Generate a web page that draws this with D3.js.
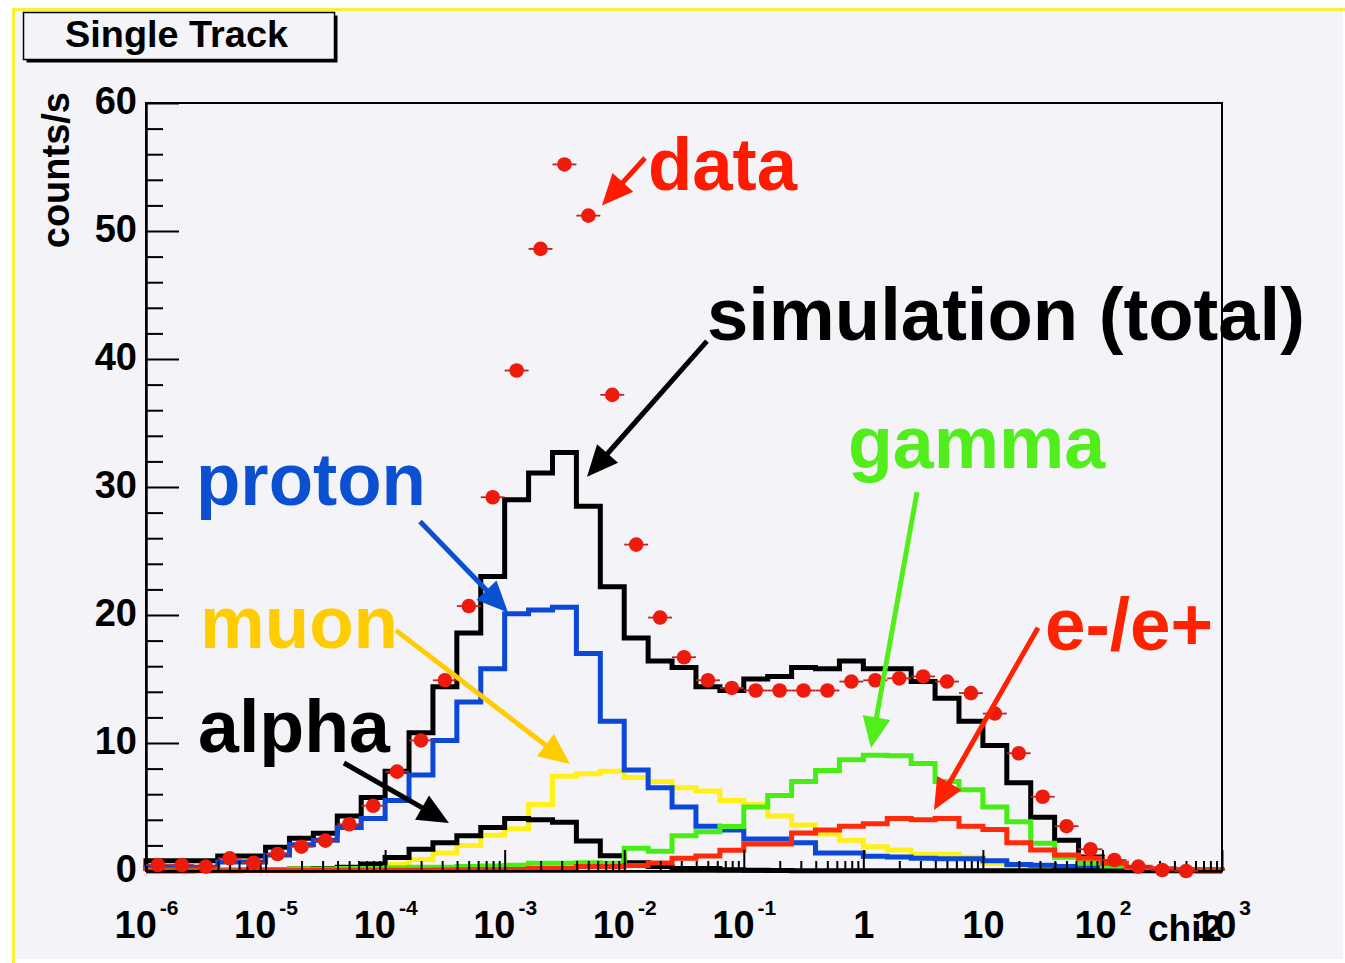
<!DOCTYPE html>
<html>
<head>
<meta charset="utf-8">
<script src="https://cdn.jsdelivr.net/npm/d3@7"></script>
<style>
  html, body { margin: 0; padding: 0; background: #ffffff; }
  svg { display: block; }
  text { font-family: "Liberation Sans", Arial, Helvetica, sans-serif; font-weight: bold; }
</style>
</head>
<body>
<svg id="chart" width="1345" height="963"></svg>
<script>
// ---- binning: 45 equal bins in log10(chi2), from 1e-6 to 1e3 ----
const binCount = 45;
const logMin = -6, logMax = 3;
const binEdges = d3.range(binCount + 1).map(i => Math.pow(10, logMin + i * (logMax - logMin) / binCount));
const binCenters = d3.range(binCount).map(i => Math.pow(10, logMin + (i + 0.5) * (logMax - logMin) / binCount));

// ---- axis ticks ----
const xTickExponents = [-6, -5, -4, -3, -2, -1, 0, 1, 2, 3];
const yTickValues = [0, 10, 20, 30, 40, 50, 60];
const yMinorValues = [2, 4, 6, 8, 12, 14, 16, 18, 22, 24, 26, 28, 32, 34, 36, 38, 42, 44, 46, 48, 52, 54, 56, 58];

// ---- measured rate (counts/s), one value per bin ----
const dataRate = [0.47, 0.47, 0.34, 0.99, 0.65, 1.33, 1.9, 2.37, 3.65, 5.1,
                  7.76, 10.2, 14.9, 20.7, 29.2, 39.1, 48.6, 55.2, 51.2, 37.2,
                  25.5, 19.8, 16.7, 14.9, 14.3, 14.1, 14.1, 14.1, 14.1, 14.8,
                  14.9, 15.05, 15.2, 14.8, 13.9, 12.3, 9.2, 5.8, 3.5, 1.7,
                  0.86, 0.34, 0.08, 0.0, null];

// ---- simulated rates (counts/s) ----
const simTotal = [0.81, 0.81, 0.81, 1.17, 1.17, 1.85, 2.55, 2.94, 4.3, 5.75,
                  7.8, 10.8, 14.4, 18.6, 23.0, 29.0, 31.1, 32.7, 28.5, 22.2,
                  18.2, 16.4, 15.9, 14.4, 14.1, 15.0, 15.2, 15.9, 15.8, 16.4,
                  15.8, 15.8, 14.8, 13.5, 11.7, 9.8, 6.9, 4.2, 2.4, 1.1,
                  0.35, 0.15, 0.08, 0.05, 0.02];

const proton = [0.3, 0.3, 0.3, 0.7, 0.7, 1.25, 2.05, 2.4, 3.4, 4.1,
                5.5, 7.5, 10.2, 13.2, 15.8, 20.1, 20.4, 20.6, 17.0, 11.7,
                7.9, 6.5, 5.0, 3.5, 3.2, 2.5, 2.5, 2.2, 1.4, 1.4,
                1.15, 1.1, 1.0, 0.95, 0.95, 0.8, 0.5, 0.45, 0.35, 0.3,
                0.25, 0.2, 0.15, 0.1, 0.1];

const muon = [0.02, 0.02, 0.05, 0.05, 0.1, 0.1, 0.15, 0.2, 0.25, 0.35,
              0.5, 0.9, 1.4, 2.0, 2.8, 3.3, 5.2, 7.4, 7.6, 7.8,
              7.3, 7.0, 6.5, 6.25, 5.5, 5.2, 4.3, 3.6, 2.9, 2.4,
              1.9, 1.64, 1.3, 1.3, 1.07, 0.6, 0.4, 0.25, 0.15, 0.1,
              0.05, 0.02, 0.02, 0.02, 0.02];

const alpha = [0.02, 0.02, 0.03, 0.05, 0.08, 0.1, 0.15, 0.2, 0.3, 0.55,
               1.05, 1.7, 2.2, 2.75, 3.4, 4.1, 4.0, 3.8, 2.35, 1.2,
               0.65, 0.35, 0.2, 0.2, 0.1, 0.05, 0.03, 0.02, 0.02, 0.02,
               0.02, 0.02, 0.02, 0.02, 0.02, 0.02, 0.02, 0.02, 0.02, 0.02,
               0.02, 0.02, 0.02, 0.02, 0.02];

const gamma = [0.05, 0.05, 0.05, 0.1, 0.1, 0.1, 0.15, 0.15, 0.2, 0.2,
               0.25, 0.3, 0.3, 0.35, 0.4, 0.45, 0.6, 0.6, 0.65, 0.6,
               1.77, 1.55, 2.75, 3.07, 3.48, 5.0, 5.9, 7.0, 7.85, 8.7,
               9.05, 9.0, 8.4, 7.0, 6.35, 5.0, 3.85, 2.16, 1.07, 0.6,
               0.4, 0.2, 0.1, 0.05, 0.03];

const electron = [0.02, 0.02, 0.02, 0.02, 0.03, 0.03, 0.03, 0.05, 0.05, 0.05,
                  0.05, 0.05, 0.08, 0.1, 0.1, 0.12, 0.2, 0.2, 0.35, 0.35,
                  0.42, 0.62, 1.0, 1.17, 1.62, 2.1, 2.1, 2.97, 3.2, 3.5,
                  3.7, 4.1, 4.0, 4.1, 3.5, 3.25, 2.2, 1.64, 1.25, 1.0,
                  0.6, 0.3, 0.15, 0.05, 0.02];

// ---- layout ----
const W = 1345, H = 963;
const plot = { left: 146, right: 1222, top: 103, bottom: 871 };
const bgColor = "#f4f3f7";
const fontStack = '"Liberation Sans", Arial, Helvetica, sans-serif';

const svg = d3.select("#chart");

const x = d3.scaleLog().domain([1e-6, 1e3]).range([plot.left, plot.right]);
const y = d3.scaleLinear().domain([0, 60]).range([plot.bottom, plot.top]);

// canvas with its highlighted (yellow) top and left border
svg.append("rect").attr("x", 0).attr("y", 0).attr("width", W).attr("height", H).attr("fill", "#ffffff");
svg.append("rect").attr("x", 12).attr("y", 8).attr("width", 1331).attr("height", 951).attr("fill", bgColor);
svg.append("line").attr("x1", 12).attr("x2", W).attr("y1", 9.5).attr("y2", 9.5)
   .attr("stroke", "#faf03a").attr("stroke-width", 3);
svg.append("line").attr("x1", 13.5).attr("x2", 13.5).attr("y1", 8).attr("y2", H)
   .attr("stroke", "#faf03a").attr("stroke-width", 3);

// title box with drop shadow
svg.append("rect").attr("x", 26.5).attr("y", 15.5).attr("width", 311).attr("height", 47).attr("fill", "#000");
svg.append("rect").attr("x", 23.5).attr("y", 12.5).attr("width", 311).attr("height", 47)
   .attr("fill", bgColor).attr("stroke", "#000").attr("stroke-width", 1.5);
svg.append("text").attr("x", 176.5).attr("y", 47).attr("text-anchor", "middle")
   .attr("font-size", 37).attr("textLength", 223).attr("lengthAdjust", "spacingAndGlyphs")
   .attr("fill", "#000").text("Single Track");

// ---- histograms ----
function stepPoints(values) {
  const pts = [[binEdges[0], 0]];
  values.forEach((v, i) => { pts.push([binEdges[i], v]); pts.push([binEdges[i + 1], v]); });
  pts.push([binEdges[binCount], 0]);
  return pts;
}
const stepLine = d3.line().x(d => x(d[0])).y(d => y(d[1]));

const histograms = [
  { name: "total",    values: simTotal, color: "#000000" },
  { name: "muon",     values: muon,     color: "#fff01a" },
  { name: "proton",   values: proton,   color: "#0b48d8" },
  { name: "alpha",    values: alpha,    color: "#000000" },
  { name: "gamma",    values: gamma,    color: "#46ee14" },
  { name: "electron", values: electron, color: "#ff2a0a" }
];

const gHist = svg.append("g").attr("class", "histograms");
gHist.selectAll("path").data(histograms).join("path")
  .attr("d", d => stepLine(stepPoints(d.values)))
  .attr("fill", "none")
  .attr("stroke", d => d.color)
  .attr("stroke-width", 5)
  .attr("stroke-linejoin", "miter");

// ---- axes ----
function styleAxis(g) {
  g.attr("font-family", null).attr("font-size", null);
  g.selectAll(".tick line").attr("stroke", "#000").attr("stroke-width", 2);
  g.select(".domain").attr("stroke", "#000").attr("stroke-width", 2.5);
}

// y: minor then major
svg.append("g").attr("transform", `translate(${plot.left},0)`)
  .call(d3.axisLeft(y).tickValues(yMinorValues).tickSize(-17).tickSizeOuter(0).tickFormat(""))
  .call(styleAxis)
  .call(g => g.select(".domain").remove());

const gy = svg.append("g").attr("transform", `translate(${plot.left},0)`)
  .call(d3.axisLeft(y).tickValues(yTickValues).tickSize(-33).tickSizeOuter(0).tickPadding(9).tickFormat(d3.format("d")))
  .call(styleAxis);
gy.selectAll(".tick text").attr("font-size", 38).attr("fill", "#000").attr("dy", "0.28em")
  .attr("font-family", fontStack).attr("font-weight", "bold");

// x: minor then major
const xMinorValues = [];
for (let e = logMin; e < logMax; e++) for (let m = 2; m <= 9; m++) xMinorValues.push(m * Math.pow(10, e));
svg.append("g").attr("transform", `translate(0,${plot.bottom})`)
  .call(d3.axisBottom(x).tickValues(xMinorValues).tickSize(-10).tickSizeOuter(0).tickFormat(""))
  .call(styleAxis)
  .call(g => g.select(".domain").remove());

const gx = svg.append("g").attr("transform", `translate(0,${plot.bottom})`)
  .call(d3.axisBottom(x).tickValues(xTickExponents.map(e => Math.pow(10, e))).tickSize(-21).tickSizeOuter(0).tickFormat(""))
  .call(styleAxis);

gx.selectAll(".tick").each(function(d, i) {
  const e = xTickExponents[i];
  const t = d3.select(this).select("text")
    .attr("y", 67).attr("dy", null)
    .attr("font-size", 38).attr("fill", "#000")
    .attr("font-family", fontStack).attr("font-weight", "bold")
    .attr("text-anchor", "middle");
  t.text(null);
  if (e === 0) t.append("tspan").text("1");
  else if (e === 1) t.append("tspan").text("10");
  else {
    t.append("tspan").text("10");
    t.append("tspan").attr("dx", 3).attr("dy", -23).attr("font-size", 21).text(String(e));
  }
});

// frame
svg.append("rect").attr("x", plot.left).attr("y", plot.top)
  .attr("width", plot.right - plot.left).attr("height", plot.bottom - plot.top)
  .attr("fill", "none").attr("stroke", "#000").attr("stroke-width", 2);

// axis titles
svg.append("text").attr("x", plot.right).attr("y", 941).attr("text-anchor", "end")
  .attr("font-size", 37).attr("fill", "#000").text("chi2");
svg.append("text").attr("transform", `translate(69,92) rotate(-90)`).attr("text-anchor", "end")
  .attr("font-size", 38).attr("fill", "#000").text("counts/s");

// ---- data points with bin-width error bars ----
const points = dataRate.map((v, i) => ({ v, i })).filter(d => d.v !== null);
const gData = svg.append("g").attr("class", "data");
gData.selectAll("line").data(points).join("line")
  .attr("x1", d => x(binEdges[d.i])).attr("x2", d => x(binEdges[d.i + 1]))
  .attr("y1", d => y(d.v)).attr("y2", d => y(d.v))
  .attr("stroke", "#b8262a").attr("stroke-width", 1.8);
gData.selectAll("circle").data(points).join("circle")
  .attr("cx", d => x(binCenters[d.i])).attr("cy", d => y(d.v)).attr("r", 7.3)
  .attr("fill", "#ee1a0c");

// ---- annotations (positions given in log10(chi2) / counts coordinates) ----
const annotations = [
  { text: "data",               color: "#ff1a00", tx: -1.801, ty: 53.2, width: 149, from: [-1.826, 55.7], to: [-2.186, 52.0] },
  { text: "simulation (total)", color: "#000000", tx: -1.308, ty: 41.5, width: 598, from: [-1.308, 41.4], to: [-2.311, 30.8] },
  { text: "proton",             color: "#0b50d0", tx: -5.582, ty: 28.6, width: 230, from: [-3.708, 27.3], to: [-2.972, 20.2] },
  { text: "muon",               color: "#ffcc00", tx: -5.548, ty: 17.4, width: 198, from: [-3.909, 18.8], to: [-2.454, 8.36] },
  { text: "alpha",              color: "#000000", tx: -5.565, ty: 9.3,  width: 192, from: [-4.344, 8.44], to: [-3.466, 3.75] },
  { text: "gamma",              color: "#52ee1c", tx: -0.128, ty: 31.5, width: 257, from: [0.449, 29.6],  to: [0.064, 9.61] },
  { text: "e-/e+",              color: "#ff2200", tx: 1.520,  ty: 17.3, width: 168, from: [1.461, 19.0],  to: [0.591, 4.77] }
];

const gAnn = svg.append("g").attr("class", "annotations");
annotations.forEach(a => {
  const p1 = [x(Math.pow(10, a.from[0])), y(a.from[1])];
  const p2 = [x(Math.pow(10, a.to[0])), y(a.to[1])];
  const dx = p2[0] - p1[0], dy = p2[1] - p1[1];
  const len = Math.hypot(dx, dy);
  const ux = dx / len, uy = dy / len, nx = -uy, ny = ux;
  const L = 31, hw = 14;
  const base = [p2[0] - ux * L, p2[1] - uy * L];
  gAnn.append("line")
    .attr("x1", p1[0]).attr("y1", p1[1])
    .attr("x2", base[0] + ux * 4).attr("y2", base[1] + uy * 4)
    .attr("stroke", a.color).attr("stroke-width", 5);
  gAnn.append("polygon")
    .attr("points", [p2, [base[0] + nx * hw, base[1] + ny * hw], [base[0] - nx * hw, base[1] - ny * hw]].map(p => p.join(",")).join(" "))
    .attr("fill", a.color);
  gAnn.append("text")
    .attr("x", x(Math.pow(10, a.tx))).attr("y", y(a.ty))
    .attr("font-size", 74).attr("textLength", a.width).attr("lengthAdjust", "spacingAndGlyphs")
    .attr("fill", a.color).text(a.text);
});
</script>
</body>
</html>
